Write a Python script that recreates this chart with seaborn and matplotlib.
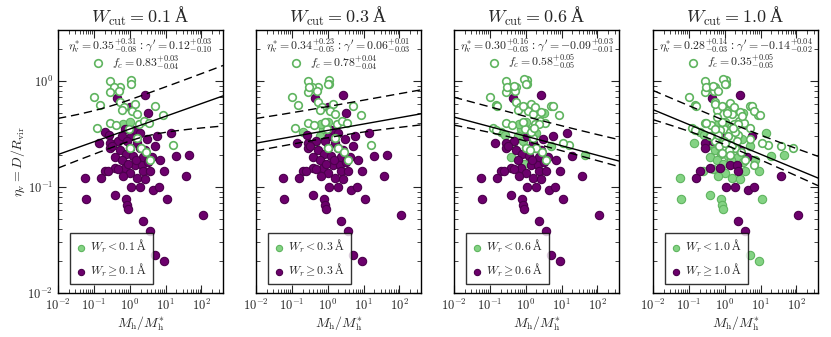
import numpy as np
import pandas as pd
import seaborn as sns
import matplotlib.pyplot as plt

# fit results per equivalent-width cut
w_cuts = [0.1, 0.3, 0.6, 1.0]
eta_star = [0.35, 0.34, 0.30, 0.28]
eta_up = [0.31, 0.23, 0.16, 0.14]
eta_dn = [0.08, 0.05, 0.03, 0.03]
gamma = [0.12, 0.06, -0.09, -0.14]
gamma_up = [0.03, 0.01, 0.03, 0.04]
gamma_dn = [0.10, 0.03, 0.01, 0.02]
f_c = [0.83, 0.78, 0.58, 0.35]
f_c_up = [0.03, 0.04, 0.05, 0.05]
f_c_dn = [0.04, 0.04, 0.05, 0.05]

# detections: halo mass ratio, impact parameter ratio, W_r (A)
mass_det = [0.43, 2.7, 5.8, 1.1, 0.48, 0.28, 0.28, 2.7, 4.2, 0.74, 1.4, 2.2, 2.4, 0.20,
            0.16, 0.385, 1.07, 1.9, 4.4, 6.4, 36, 114, 2.4, 3.6,
            1.0, 3.2, 0.21, 0.26, 0.137, 14.5, 20, 45, 9.3, 0.058, 0.245, 0.060, 0.40,
            0.77, 0.84, 0.88, 10.8, 5.0, 9.1,
            0.72, 1.38, 1.9, 0.60, 3.0, 0.82, 1.58, 0.33, 1.0, 1.9, 5.0, 0.52, 0.77,
            1.2, 2.3, 0.38, 0.60, 1.5, 3.2, 0.87, 0.46, 1.0, 3.7, 0.63, 1.58, 7.0, 2.6,
            0.65, 1.0, 0.45]
eta_det = [0.68, 0.73, 0.30, 0.30, 0.27, 0.26, 0.23, 0.22, 0.19, 0.15, 0.16, 0.16, 0.14, 0.14,
           0.12, 0.15, 0.10, 0.099, 0.093, 0.099, 0.126, 0.054, 0.048, 0.038,
           0.56, 0.50, 0.33, 0.31, 0.26, 0.32, 0.196, 0.20, 0.14, 0.12, 0.14, 0.077, 0.084,
           0.077, 0.068, 0.062, 0.077, 0.023, 0.020,
           0.35, 0.34, 0.32, 0.30, 0.28, 0.27, 0.26, 0.24, 0.23, 0.23, 0.24, 0.22, 0.205,
           0.196, 0.19, 0.19, 0.18, 0.18, 0.17, 0.165, 0.148, 0.135, 0.14, 0.127, 0.12, 0.18, 0.119,
           0.39, 0.41, 0.26]
wr_det = [1.3, 1.5, 1.2, 1.4, 1.1, 1.6, 1.2, 1.3, 1.1, 1.8, 1.2, 1.5, 1.3, 1.4,
          1.2, 1.1, 2.0, 1.3, 1.2, 1.5, 1.1, 1.4, 1.6, 1.3,
          0.45, 0.5, 0.25, 0.4, 0.7, 0.8, 0.7, 0.5, 0.8, 0.7, 0.9, 0.8, 0.7,
          0.75, 0.8, 0.9, 0.65, 0.85, 0.7,
          0.2, 0.45, 0.5, 0.25, 0.7, 0.4, 0.8, 0.7, 0.5, 0.9, 0.35, 0.7, 0.8,
          0.65, 0.9, 0.4, 0.75, 0.7, 0.8, 0.5, 0.75, 0.85, 0.7, 0.9, 0.65, 0.8, 0.75,
          0.06, 0.08, 0.05]

# non-detections: upper limits on W_r (A)
mass_lim = [0.128, 0.29, 1.07, 1.07, 0.52, 0.36, 0.29, 0.49, 0.098, 0.15, 0.52, 0.68, 0.60,
            1.45, 1.16, 1.6, 5.1, 8.3, 0.29, 0.42, 0.123, 1.8, 2.5, 3.5, 0.96, 1.6, 16,
            1.0, 2.0, 2.8, 3.7,
            0.31, 0.48, 0.92, 1.02, 0.63, 0.16, 0.53, 0.82, 1.4, 1.77, 1.13, 2.7, 3.0, 5.8,
            6.4, 9.8, 0.31, 0.82, 2.4, 5.1, 0.74, 1.4, 2.4, 0.145, 0.53, 36, 78, 6.4, 11, 5.1,
            0.66, 1.2, 2.0, 0.95, 1.6, 0.40, 0.70, 1.3, 2.2, 0.55, 1.05, 1.7, 0.85, 1.45, 0.62]
eta_lim = [1.46, 1.0, 1.02, 0.94, 0.88, 0.865, 0.78, 0.80, 0.70, 0.59, 0.63, 0.57, 0.53,
           0.60, 0.52, 0.485, 0.58, 0.47, 0.40, 0.385, 0.36, 0.39, 0.42, 0.395, 0.35, 0.29, 0.25,
           0.23, 0.23, 0.215, 0.18,
           0.88, 0.90, 1.04, 0.93, 0.80, 0.58, 0.60, 0.58, 0.61, 0.56, 0.50, 0.51, 0.46, 0.58,
           0.52, 0.47, 0.40, 0.41, 0.39, 0.36, 0.34, 0.33, 0.31, 0.34, 0.27, 0.24, 0.23, 0.16, 0.26, 0.28,
           0.31, 0.30, 0.33, 0.27, 0.25, 0.30, 0.24, 0.22, 0.27, 0.35, 0.26, 0.36, 0.21, 0.20, 0.45]
wr_lim = [0.05] * 31 + [0.2, 0.4, 0.5, 0.25, 0.7, 0.5, 0.8, 0.45, 0.9, 0.35, 0.7, 0.55, 0.8, 0.4,
                        0.9, 0.6, 0.75, 0.2, 0.5, 0.85, 0.7, 0.45, 0.95, 0.4, 0.8, 0.65, 0.9, 0.7, 0.5, 0.85,
                        0.8, 0.7, 0.9, 0.65, 0.85, 0.75, 0.9, 0.5, 0.8, 0.7, 0.95, 0.4, 0.85, 0.75, 0.6]

det = pd.DataFrame({'mass': mass_det, 'eta': eta_det, 'wr': wr_det})
lim = pd.DataFrame({'mass': mass_lim, 'eta': eta_lim, 'wr': wr_lim})

sns.set_style('ticks')
plt.rcParams['font.family'] = ['cmr10']
plt.rcParams['mathtext.fontset'] = 'cm'
plt.rcParams['axes.formatter.use_mathtext'] = True
aa_font = 'Liberation Serif'   # cmr10 has no proper angstrom glyph

green_fc = '#84d384'
green_ec = '#5fb45f'
purple_fc = '#6c006c'
purple_ec = '#4c004c'

xmin, xmax = 1e-2, 4e2
fig = plt.figure(figsize=(8.31, 3.37), dpi=100)
lefts = [58, 256, 454, 653]

for i, cut in enumerate(w_cuts):
    ax = fig.add_axes([lefts[i] / 831, 1 - 293 / 337, 165 / 831, 263 / 337])
    below = det[det['wr'] < cut]
    above = det[det['wr'] >= cut]
    opn = lim[lim['wr'] < cut]

    sns.scatterplot(data=below, x='mass', y='eta', ax=ax, s=36, color=green_fc,
                    edgecolor=green_ec, linewidth=0.8, zorder=2,
                    label=r'$W_r < %.1f$ Å' % cut)
    sns.scatterplot(data=above, x='mass', y='eta', ax=ax, s=36, color=purple_fc,
                    edgecolor=purple_ec, linewidth=0.8, zorder=3,
                    label=r'$W_r \geq %.1f$ Å' % cut)
    sns.scatterplot(data=opn, x='mass', y='eta', ax=ax, s=30, facecolor='white',
                    edgecolor=green_ec, linewidth=1.2, zorder=3)

    # best fit power law and its uncertainty band
    lx = np.linspace(np.log10(xmin), np.log10(xmax), 200)
    mid = np.log10(eta_star[i]) + gamma[i] * lx
    g_hi = np.where(lx > 0, gamma_up[i], gamma_dn[i])
    g_lo = np.where(lx > 0, gamma_dn[i], gamma_up[i])
    d_hi = np.log10((eta_star[i] + eta_up[i]) / eta_star[i])
    d_lo = np.log10(eta_star[i] / (eta_star[i] - eta_dn[i]))
    hi = mid + np.sqrt(d_hi ** 2 + (g_hi * lx) ** 2)
    lo = mid - np.sqrt(d_lo ** 2 + (g_lo * lx) ** 2)
    ax.plot(10 ** lx, 10 ** mid, color='black', lw=1.0, zorder=4)
    ax.plot(10 ** lx, 10 ** hi, color='black', lw=1.0, ls=(0, (6, 3.5)), zorder=4)
    ax.plot(10 ** lx, 10 ** lo, color='black', lw=1.0, ls=(0, (6, 3.5)), zorder=4)

    ax.set_xscale('log')
    ax.set_yscale('log')
    ax.set_xlim(xmin, xmax)
    ax.set_ylim(1e-2, 3)
    ax.set_xticks([1e-2, 1e-1, 1e0, 1e1, 1e2])
    ax.tick_params(which='both', direction='in', top=True, right=True, labelsize=9)
    ax.tick_params(which='major', length=6, width=0.8)
    ax.tick_params(which='minor', length=3, width=0.6)
    for sp in ax.spines.values():
        sp.set_linewidth(1.0)
        sp.set_color('black')

    ax.set_title(r'$W_{\rm cut} = %.1f$ Å' % cut, fontsize=13, pad=5, family=aa_font)
    ax.set_xlabel(r'$M_{\rm h}/M_{\rm h}^{*}$', fontsize=10, labelpad=1)
    if i == 0:
        ax.set_ylabel(r'$\eta_{\rm v} = D/R_{\rm vir}$', fontsize=10, labelpad=0)
    else:
        ax.set_ylabel('')
        ax.set_yticklabels([])

    sign = '-' if gamma[i] < 0 else ''
    ax.text(0.5, 0.94,
            r'$\eta_{\rm v}^{*} = %.2f^{+%.2f}_{-%.2f}$ : $\gamma^{\prime} = %s%.2f^{+%.2f}_{-%.2f}$'
            % (eta_star[i], eta_up[i], eta_dn[i], sign, abs(gamma[i]), gamma_up[i], gamma_dn[i]),
            transform=ax.transAxes, ha='center', va='center', fontsize=8.5, family=aa_font)
    ax.text(0.53, 0.875, r'$f_c = %.2f^{+%.2f}_{-%.2f}$' % (f_c[i], f_c_up[i], f_c_dn[i]),
            transform=ax.transAxes, ha='center', va='center', fontsize=8.5)

    handles, labels = ax.get_legend_handles_labels()
    leg = ax.legend(handles, labels, loc='lower left', bbox_to_anchor=(0.035, 0.01),
                    prop={'family': aa_font, 'size': 8.5}, frameon=True, fancybox=False,
                    edgecolor='black', handletextpad=0.2, borderpad=0.45, markerscale=0.75,
                    handlelength=1.1, labelspacing=0.6)
    leg.get_frame().set_linewidth(1.0)

fig.savefig('out.png', dpi=100)
